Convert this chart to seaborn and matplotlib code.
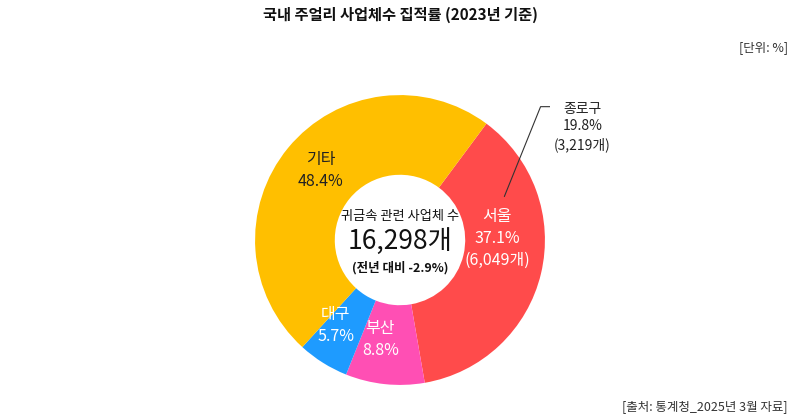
import numpy as np
import seaborn as sns
import matplotlib.pyplot as plt
from matplotlib import font_manager as fm

sns.set_theme(style="white")
# find a Korean-capable font file and register it
cjk = [f for f in fm.findSystemFonts() if "CJK" in f or "Nanum" in f]
cjk.sort(key=lambda f: ("KR" not in f, "Bold" in f, f))
if cjk:
    fm.fontManager.addfont(cjk[0])
    kr_name = fm.FontProperties(fname=cjk[0]).get_name()
else:
    kr_name = "Noto Sans CJK KR"
plt.rcParams["font.family"] = [kr_name, "DejaVu Sans"]

regions = ["서울", "부산", "대구", "기타"]
shares = [37.1, 8.8, 5.7, 48.4]
counts = ["(6,049개)", "", "", ""]
colors = ["#FF4B4B", "#FF4FB4", "#1E9BFF", "#FFBF00"]
sub_name = "종로구"
sub_share = 19.8
sub_count = "(3,219개)"
total = "16,298개"

fig = plt.figure(figsize=(8, 4.17), dpi=100)
fig.patch.set_facecolor("white")
ax = fig.add_axes([250 / 800, (417 - 240 - 150) / 417, 300 / 800, 300 / 417])
start = 53.4
ax.pie(shares, colors=colors, startangle=start, counterclock=False,
       radius=1, wedgeprops=dict(width=1 - 0.45, edgecolor="none"))
ax.set_xlim(-1.035, 1.035)
ax.set_ylim(-1.035, 1.035)
ax.set_aspect("equal")
ax.axis("off")

# slice labels at mid-angles, with small placement nudges
cum = 0
label_r = [0.73, 0.73, 0.78, 0.72]
nudge = [(-0.04, 0.18), (-0.06, 0.04), (-0.03, 0.07), (0.01, 0.02)]
for name, v, c, r, (dx, dy) in zip(regions, shares, counts, label_r, nudge):
    mid = np.deg2rad(start - (cum + v / 2) * 3.6)
    cum += v
    x, y = r * np.cos(mid) + dx, r * np.sin(mid) + dy
    txt = f"{name}\n{v}%" + (f"\n{c}" if c else "")
    col = "#222222" if name == "기타" else "white"
    ax.text(x, y, txt, ha="center", va="center", fontsize=11.5, color=col, linespacing=1.4)

# 종로구 callout
ax.plot([0.72, 0.97, 1.05], [0.3, 0.92, 0.92], color="#333333", lw=0.8)
ax.text(1.26, 0.78, f"{sub_name}\n{sub_share}%\n{sub_count}", ha="center", va="center",
        fontsize=10, color="#222222", linespacing=1.3)

# center text
ax.text(0, 0.16, "귀금속 관련 사업체 수", ha="center", va="center", fontsize=9.5, color="#111111")
ax.text(0, -0.01, total, ha="center", va="center", fontsize=19, color="#111111")
ax.text(0, -0.19, "(전년 대비 -2.9%)", ha="center", va="center", fontsize=9, color="#111111",
        fontweight="bold")

fig.text(0.5, 0.965, "국내 주얼리 사업체수 집적률 (2023년 기준)", ha="center", va="center",
         fontsize=11, fontweight="bold", color="#111111")
fig.text(0.985, 0.885, "[단위: %]", ha="right", va="center", fontsize=9, color="#333333")
fig.text(0.985, 0.025, "[출처: 통계청_2025년 3월 자료]", ha="right", va="center", fontsize=9,
         color="#333333")

fig.savefig("out.png", dpi=100)
